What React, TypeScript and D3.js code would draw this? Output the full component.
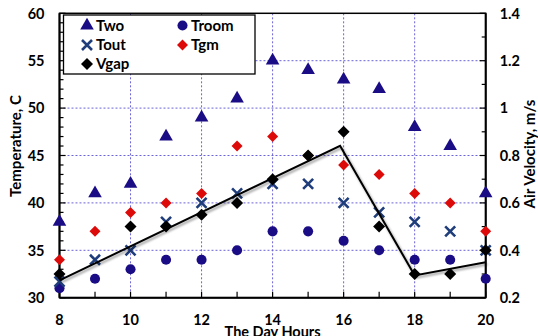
import React from "react";
import * as d3 from "d3";

const hours = [8, 9, 10, 11, 12, 13, 14, 15, 16, 17, 18, 19, 20];
const two = [38, 41, 42, 47, 49, 51, 55, 54, 53, 52, 48, 46, 41];
const troom = [31, 32, 33, 34, 34, 35, 37, 37, 36, 35, 34, 34, 32];
const tout = [31.7, 34, 35, 38, 40, 41, 42, 42, 40, 39, 38, 37, 35];
const tgm = [34, 37, 39, 40, 41, 46, 47, 45, 44, 43, 41, 40, 37];
const vgapHours = [8, 10, 11, 12, 13, 14, 15, 16, 17, 18, 19, 20];
const vgap = [0.3, 0.5, 0.5, 0.55, 0.6, 0.7, 0.8, 0.9, 0.5, 0.3, 0.3, 0.4];
const trendHours = [8, 15.9, 18, 20];
const trendVals = [0.273, 0.841, 0.294, 0.35];
const xTicks = [8, 10, 12, 14, 16, 18, 20];
const yLeftTicks = [30, 35, 40, 45, 50, 55, 60];
const yRightTicks = [0.2, 0.4, 0.6, 0.8, 1.0, 1.2, 1.4];

const W = 538, H = 336;
const L = 59.5, R = 485.7, T = 13.3, B = 297.7;
const FONT = "Lato, 'DejaVu Sans', sans-serif";
const NAVY = "#1a0c85";
const XBLUE = "#1f3d7a";
const RED = "#dd0a0a";
const GRID = "#6b63d6";

const x = d3.scaleLinear().domain([8, 20]).range([L, R]);
const yL = d3.scaleLinear().domain([30, 60]).range([B, T]);
const yR = d3.scaleLinear().domain([0.2, 1.4]).range([B, T]);

const tri = d3.symbol().type(d3.symbolTriangle).size(80)()!;
const circ = d3.symbol().type(d3.symbolCircle).size(80)()!;
const diam = (s: number) => `M0,${-s}L${s},0L0,${s}L${-s},0Z`;

function Cross({ cx, cy }: { cx: number; cy: number }) {
  const s = 5;
  return (
    <path
      d={`M${cx - s},${cy - s}L${cx + s},${cy + s}M${cx - s},${cy + s}L${cx + s},${cy - s}`}
      stroke={XBLUE}
      strokeWidth={2.6}
      fill="none"
    />
  );
}

export default function App() {
  const line = d3
    .line<number>()
    .x((_, i) => x(trendHours[i]))
    .y((v) => yR(v));
  const minorL = d3.range(30, 61, 1);
  const minorR = d3.range(0.2, 1.41, 0.1);
  return (
    <svg
      width={W}
      height={H}
      style={{ position: "absolute", left: 0, top: 0, background: "#fff" }}
      fontFamily={FONT}
      fontWeight="bold"
    >
      <defs>
        <filter id="sh" x="-10%" y="-10%" width="130%" height="140%">
          <feDropShadow dx="1.5" dy="2" stdDeviation="1.2" floodColor="#000" floodOpacity="0.4" />
        </filter>
      </defs>
      <rect x={0} y={0} width={W} height={H} fill="#fff" />
      {xTicks.slice(1, -1).map((t) => (
        <line key={"gx" + t} x1={x(t)} x2={x(t)} y1={T} y2={B} stroke={GRID} strokeWidth={1} strokeDasharray="2,2" />
      ))}
      {yLeftTicks.slice(1, -1).map((t) => (
        <line key={"gy" + t} x1={L} x2={R} y1={yL(t)} y2={yL(t)} stroke={GRID} strokeWidth={1} strokeDasharray="2,2" />
      ))}
      <rect x={L} y={T} width={R - L} height={B - T} fill="none" stroke="#000" strokeWidth={1.5} />
      <line x1={L} x2={L} y1={T} y2={B} stroke="#000" strokeWidth={2} />
      <line x1={L} x2={R} y1={B} y2={B} stroke="#000" strokeWidth={2} />
      <line x1={R} x2={R} y1={T} y2={B} stroke="#000" strokeWidth={2} />
      {minorL.map((t) => (
        <line key={"tl" + t} x1={L} x2={L + (t % 5 === 0 ? 6 : 4)} y1={yL(t)} y2={yL(t)} stroke="#000" strokeWidth={1.2} />
      ))}
      {minorR.map((t, i) => (
        <line key={"tr" + i} x1={R} x2={R - (i % 2 === 0 ? 6 : 4)} y1={yR(t)} y2={yR(t)} stroke="#000" strokeWidth={1.2} />
      ))}
      {hours.map((t) => (
        <line key={"tb" + t} x1={x(t)} x2={x(t)} y1={B} y2={B - 6} stroke="#000" strokeWidth={1.2} />
      ))}
      {yLeftTicks.map((t) => (
        <text key={"ll" + t} x={L - 15} y={yL(t)} dy="0.36em" textAnchor="end" fontSize={14.5}>
          {t}
        </text>
      ))}
      {yRightTicks.map((t) => (
        <text key={"rl" + t} x={R + 14} y={yR(t)} dy="0.36em" textAnchor="start" fontSize={14.5}>
          {d3.format("~g")(t)}
        </text>
      ))}
      {xTicks.map((t) => (
        <text key={"xl" + t} x={x(t)} y={325} textAnchor="middle" fontSize={14.5}>
          {t}
        </text>
      ))}
      <text x={(L + R) / 2} y={337} textAnchor="middle" fontSize={14.5}>
        The Day Hours
      </text>
      <text transform={`translate(21,146) rotate(-90)`} textAnchor="middle" fontSize={15}>
        Temperature, C
      </text>
      <text transform={`translate(535,154) rotate(-90)`} textAnchor="middle" fontSize={15}>
        Air Velocity, m/s
      </text>
      {hours.map((h, i) => (
        <path key={"two" + h} d={tri} transform={`translate(${x(h)},${yL(two[i])})`} fill={NAVY} />
      ))}
      {hours.map((h, i) => (
        <path key={"tr" + h} d={circ} transform={`translate(${x(h)},${yL(troom[i])})`} fill={NAVY} />
      ))}
      {hours.map((h, i) => (
        <Cross key={"to" + h} cx={x(h)} cy={yL(tout[i])} />
      ))}
      {hours.map((h, i) => (
        <path key={"tg" + h} d={diam(5.5)} transform={`translate(${x(h)},${yL(tgm[i])})`} fill={RED} />
      ))}
      <path d={line(trendVals)!} fill="none" stroke="#000" strokeWidth={2} filter="url(#sh)" />
      {vgapHours.map((h, i) => (
        <path key={"vg" + h} d={diam(6)} transform={`translate(${x(h)},${yR(vgap[i])})`} fill="#000" />
      ))}
      <rect x={63.5} y={15} width={191.5} height={59} fill="#fff" stroke="#000" strokeWidth={1.3} />
      <path d={tri} transform="translate(87,25.5)" fill={NAVY} />
      <text x={96} y={25.5} dy="0.36em" fontSize={15}>Two</text>
      <path d={circ} transform="translate(182.5,25.5)" fill={NAVY} />
      <text x={191} y={25.5} dy="0.36em" fontSize={15}>Troom</text>
      <Cross cx={87} cy={45} />
      <text x={96} y={45} dy="0.36em" fontSize={15}>Tout</text>
      <path d={diam(5.5)} transform="translate(182.5,45)" fill={RED} />
      <text x={191} y={45} dy="0.36em" fontSize={15}>Tgm</text>
      <path d={diam(6)} transform="translate(87,64)" fill="#000" />
      <text x={96} y={64} dy="0.36em" fontSize={15}>Vgap</text>
    </svg>
  );
}
